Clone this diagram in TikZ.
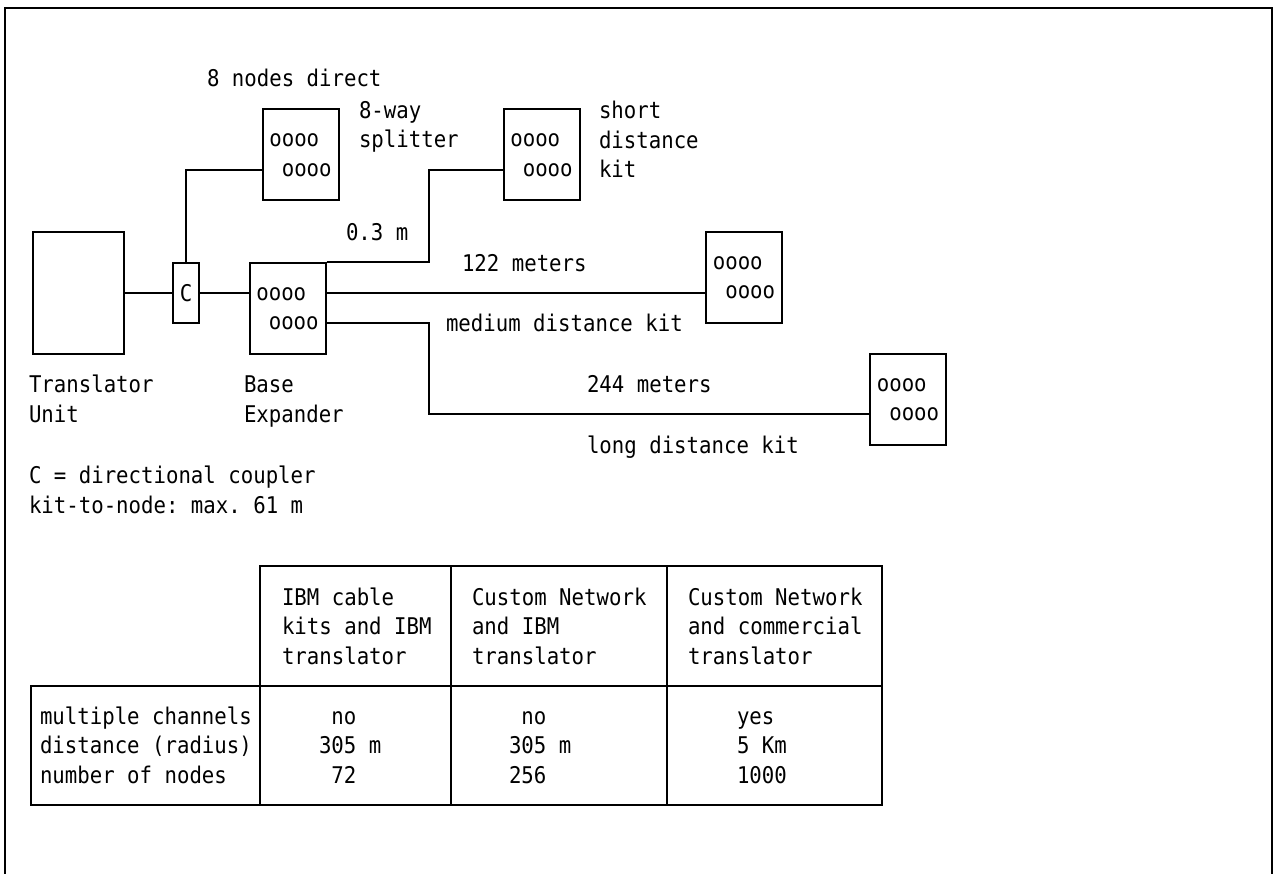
\documentclass[tikz,border=0pt]{standalone}
\usepackage{fontspec}
\setmonofont[FakeStretch=0.9]{DejaVu Sans Mono}
\begin{document}
\begin{tikzpicture}[x=1pt, y=-1pt, line width=2pt,
        every node/.style={font=\ttfamily\fontsize{23}{29.5}\selectfont, inner sep=0pt},
        kit/.style={draw, minimum width=76pt, minimum height=91pt, align=left},
        lbl/.style={anchor=base west, align=left}]
        \useasboundingbox (0,0) rectangle (1277,874);
        \draw (5,874) -- (5,8) -- (1272,8) -- (1272,874);
        % units and kits
        \node[draw, minimum width=91pt, minimum height=122pt] (tu) at (78.5,293) {};
        \node[draw, minimum width=26pt, minimum height=60pt] (cpl) at (186,293) {C};
        \foreach \n/\x/\y in {be/287.5/308.5, spl/300.5/155, sdk/541.5/155, mdk/744/277.5, ldk/908/399.5} {
            \node[kit] (\n) at (\x,\y) {oooo\\\hphantom{o}oooo};
        }
        \draw (tu.east) -- (cpl.west);
        \draw (cpl.east) -- (cpl.east -| be.west);
        \draw (cpl.north) |- ([yshift=-15.5pt]spl.west);
        \draw (be.north east) -- ++(102,0) |- ([yshift=-15.5pt]sdk.west);
        \draw ([yshift=15.5pt]be.east) -- ([yshift=-15.5pt]mdk.west);
        \draw ([yshift=-14.5pt]be.east) -- ++(102,0) |- ([yshift=-14.5pt]ldk.west);
        % labels (base = last line)
        \node[lbl] (l8) at (206,87) {8 nodes direct};
        \node[lbl] (lspl) at (358,148) {8-way\\splitter};
        \node[lbl] (lsdk) at (598,178) {short\\distance\\kit};
        \node[lbl] (l03) at (345,241) {0.3 m};
        \node[lbl] (l122) at (461,272) {122 meters};
        \node[lbl] (lmdk) at (445,332) {medium distance kit};
        \node[lbl] (l244) at (586,393) {244 meters};
        \node[lbl] (lldk) at (586,453) {long distance kit};
        \node[lbl] (ltu) at (28,422) {Translator\\Unit};
        \node[lbl] (lbe) at (243,422) {Base\\Expander};
        \node[lbl] (lnote) at (28,513) {C = directional coupler\\kit-to-node: max. 61 m};
        % table
        \draw (31,686) rectangle (882,805);
        \draw (260,566) rectangle (882,805);
        \draw (451,566) -- (451,805);
        \draw (667,566) -- (667,805);
        \node[lbl] (h1) at (281,664) {IBM cable\\kits and IBM\\translator};
        \node[lbl] (h2) at (471,664) {Custom Network\\and IBM\\translator};
        \node[lbl] (h3) at (687,664) {Custom Network\\and commercial\\translator};
        \node[lbl] (rows) at (39,783) {multiple channels\\distance (radius)\\number of nodes};
        \node[lbl] (v1) at (318,783) {\hphantom{0}no\\305 m\\\hphantom{0}72};
        \node[lbl] (v2) at (508,783) {\hphantom{0}no\\305 m\\256};
        \node[lbl] (v3) at (736,783) {yes\\5 Km\\1000};
    \end{tikzpicture}
\end{document}
